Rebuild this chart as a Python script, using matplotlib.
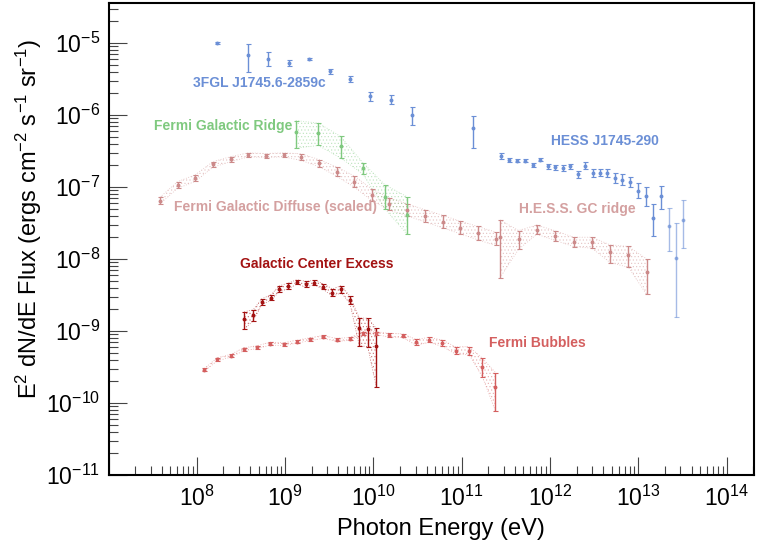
"""Gamma-ray spectra of the Galactic Center region (ROOT-style log-log plot)."""

import matplotlib

matplotlib.use("Agg")
import matplotlib.pyplot as plt
import matplotlib.ticker as mticker
import numpy as np

plt.rcParams["font.family"] = ["Liberation Sans", "DejaVu Sans"]
plt.rcParams["mathtext.fontset"] = "custom"
plt.rcParams["mathtext.rm"] = "Liberation Sans"
plt.rcParams["mathtext.it"] = "Liberation Sans:italic"
plt.rcParams["mathtext.bf"] = "Liberation Sans:bold"
plt.rcParams["mathtext.default"] = "regular"
plt.rcParams["hatch.linewidth"] = 0.5

# --- data: energy (eV), E^2 dN/dE flux, and error bars in dex (down, up) ---
fgl_e = [1.71e8, 3.83e8, 6.45e8, 1.10e9, 1.88e9, 3.2e9, 5.43e9, 9.2e9, 1.6e10, 2.74e10, 1.35e11]
fgl_f = [1.0e-5, 6.73e-6, 6.0e-6, 5.28e-6, 6.0e-6, 4.03e-6, 3.19e-6, 1.81e-6, 1.63e-6, 1.01e-6, 6.6e-7]
fgl_dn = [0.015, 0.231, 0.094, 0.047, 0.015, 0.036, 0.038, 0.06, 0.06, 0.139, 0.274]
fgl_up = [0.015, 0.158, 0.091, 0.046, 0.015, 0.038, 0.032, 0.061, 0.06, 0.112, 0.171]

hess_e = [2.81e11, 3.46e11, 4.26e11, 5.25e11, 6.37e11, 7.71e11, 9.42e11, 1.15e12, 1.39e12,
          1.70e12, 2.06e12, 2.49e12, 3.03e12, 3.68e12, 4.46e12, 5.45e12, 6.59e12, 8.05e12,
          9.93e12, 1.21e13, 1.48e13, 1.81e13, 2.21e13, 2.67e13, 3.24e13]
hess_f = [2.72e-7, 2.37e-7, 2.31e-7, 2.31e-7, 2.04e-7, 2.39e-7, 1.93e-7, 1.87e-7, 1.83e-7,
          1.93e-7, 1.51e-7, 1.99e-7, 1.57e-7, 1.59e-7, 1.56e-7, 1.33e-7, 1.26e-7, 1.19e-7,
          8.93e-8, 7.55e-8, 3.70e-8, 7.55e-8, 2.89e-8, 1.03e-8, 3.50e-8]
hess_dn = [0.04, 0.023, 0.02, 0.02, 0.025, 0.023, 0.035, 0.035, 0.037, 0.04, 0.05, 0.05, 0.05,
           0.05, 0.057, 0.07, 0.074, 0.07, 0.101, 0.139, 0.246, 0.184, 0.348, 0.812, 0.39]
hess_up = [0.04, 0.023, 0.02, 0.02, 0.025, 0.023, 0.035, 0.035, 0.037, 0.04, 0.05, 0.05, 0.05,
           0.05, 0.057, 0.07, 0.074, 0.07, 0.107, 0.125, 0.198, 0.136, 0.25, 0.49, 0.278]

ridge_e = [1.32e9, 2.38e9, 4.26e9, 7.57e9, 1.35e10, 2.38e10]
ridge_f = [5.90e-7, 5.61e-7, 3.66e-7, 1.83e-7, 7.38e-8, 4.11e-8]
ridge_dn = [0.231, 0.172, 0.161, 0.079, 0.171, 0.264]
ridge_up = [0.153, 0.139, 0.139, 0.078, 0.163, 0.254]

diffuse_e = [3.83e7, 6.07e7, 9.62e7, 1.52e8, 2.42e8, 3.83e8, 6.07e8, 9.62e8, 1.52e9, 2.42e9,
             3.83e9, 6.07e9, 9.62e9, 1.52e10, 2.42e10, 3.83e10, 6.07e10, 9.62e10, 1.52e11, 2.42e11]
diffuse_f = [6.49e-8, 1.07e-7, 1.33e-7, 2.06e-7, 2.44e-7, 2.80e-7, 2.74e-7, 2.80e-7, 2.60e-7, 2.15e-7,
             1.64e-7, 1.19e-7, 7.79e-8, 5.78e-8, 4.82e-8, 3.98e-8, 3.32e-8, 2.74e-8, 2.29e-8, 1.91e-8]
diffuse_err = [0.046, 0.046, 0.046, 0.038, 0.035, 0.028, 0.028, 0.028, 0.046, 0.05,
               0.065, 0.078, 0.08, 0.086, 0.083, 0.086, 0.086, 0.088, 0.093, 0.093]

hgc_e = [2.72e11, 4.40e11, 7.08e11, 1.15e12, 1.85e12, 2.97e12, 4.78e12, 7.71e12, 1.24e13]
hgc_f = [2.03e-8, 1.91e-8, 2.56e-8, 2.11e-8, 1.73e-8, 1.73e-8, 1.24e-8, 1.15e-8, 6.56e-9]
hgc_dn = [0.566, 0.146, 0.065, 0.067, 0.065, 0.088, 0.142, 0.175, 0.309]
hgc_up = [0.236, 0.115, 0.065, 0.067, 0.065, 0.065, 0.104, 0.114, 0.185]

gce_e = [3.45e8, 4.33e8, 5.47e8, 6.92e8, 8.53e8, 1.09e9, 1.36e9, 1.71e9, 2.14e9, 2.71e9,
         3.43e9, 4.33e9, 5.43e9, 6.92e9, 8.61e9, 1.08e10]
gce_f = [1.47e-9, 1.67e-9, 2.56e-9, 2.91e-9, 3.85e-9, 4.24e-9, 4.81e-9, 4.47e-9, 4.71e-9, 4.14e-9,
         3.42e-9, 3.81e-9, 2.70e-9, 1.09e-9, 1.07e-9, 6.27e-10]
gce_dn = [0.139, 0.083, 0.04, 0.04, 0.04, 0.04, 0.03, 0.04, 0.03, 0.04, 0.05, 0.05, 0.05, 0.242, 0.246, 0.578]
gce_up = [0.101, 0.07, 0.04, 0.04, 0.04, 0.04, 0.03, 0.04, 0.03, 0.04, 0.05, 0.05, 0.05, 0.143, 0.149, 0.242]

bub_e = [1.21e8, 1.71e8, 2.41e8, 3.40e8, 4.81e8, 6.79e8, 9.59e8, 1.36e9, 1.91e9, 2.70e9, 3.82e9, 5.40e9,
         7.62e9, 1.08e10, 1.52e10, 2.15e10, 3.03e10, 4.29e10, 6.05e10, 8.55e10, 1.21e11, 1.71e11, 2.41e11]
bub_f = [2.88e-10, 4.06e-10, 4.51e-10, 5.58e-10, 5.96e-10, 6.68e-10, 6.56e-10, 7.13e-10, 7.69e-10, 8.28e-10,
         7.52e-10, 7.77e-10, 9.31e-10, 9.31e-10, 8.75e-10, 8.61e-10, 6.98e-10, 7.52e-10, 6.76e-10, 5.35e-10,
         5.35e-10, 3.20e-10, 1.66e-10]
bub_dn = [0.02, 0.02, 0.02, 0.02, 0.02, 0.02, 0.02, 0.02, 0.02, 0.02, 0.02, 0.02, 0.02, 0.02, 0.025,
          0.025, 0.04, 0.035, 0.045, 0.05, 0.055, 0.139, 0.329]
bub_up = [0.02, 0.02, 0.02, 0.02, 0.02, 0.02, 0.02, 0.02, 0.02, 0.02, 0.02, 0.02, 0.02, 0.02, 0.025,
          0.025, 0.04, 0.035, 0.045, 0.05, 0.055, 0.117, 0.203]

BLUE = "#6b8fd6"
GREEN = "#7fc97f"
PINK = "#cc8a8a"
DARKRED = "#a31212"
BUBBLE = "#d45f5f"


def _bounds(flux, dn, up):
    f = np.asarray(flux)
    return f * 10.0 ** -np.asarray(dn), f * 10.0 ** np.asarray(up)


def _points(ax, energy, flux, dn, up, color, alpha=1.0, ms=1.8):
    lo, hi = _bounds(flux, dn, up)
    f = np.asarray(flux)
    ax.errorbar(energy, f, yerr=[f - lo, hi - f], fmt="o", color=color, ms=ms,
                elinewidth=1.0, capsize=1.8, capthick=0.8, alpha=alpha, zorder=4)


def _band(ax, energy, flux, dn, up, color, alpha=0.4):
    lo, hi = _bounds(flux, dn, up)
    ax.fill_between(energy, lo, hi, facecolor="none", edgecolor=color, hatch=".....",
                    linewidth=0.0, alpha=alpha, zorder=2)
    ax.plot(energy, lo, ls=(0, (1, 2)), color=color, lw=0.6, alpha=alpha + 0.1, zorder=2)
    ax.plot(energy, hi, ls=(0, (1, 2)), color=color, lw=0.6, alpha=alpha + 0.1, zorder=2)


def _decade_label(value, _pos):
    if value < 5e7 and value > 1e6:
        return ""
    return rf"$10^{{{int(round(np.log10(value)))}}}$"


fig = plt.figure(figsize=(7.64, 5.54), dpi=100)
ax = fig.add_axes([108.5 / 764, 1 - 475 / 554, (754 - 108.5) / 764, (475 - 3) / 554])
ax.set_xscale("log")
ax.set_yscale("log")
ax.set_xlim(1e7, 2.04e14)
ax.set_ylim(1e-11, 3.6e-5)

# bands
_band(ax, diffuse_e, diffuse_f, diffuse_err, diffuse_err, PINK)
_band(ax, hgc_e, hgc_f, hgc_dn, hgc_up, PINK)
_band(ax, ridge_e, ridge_f, ridge_dn, ridge_up, GREEN)
_band(ax, gce_e, gce_f, gce_dn, gce_up, DARKRED, alpha=0.45)
_band(ax, bub_e, bub_f, bub_dn, bub_up, BUBBLE)

# points
_points(ax, diffuse_e, diffuse_f, diffuse_err, diffuse_err, PINK)
_points(ax, hgc_e, hgc_f, hgc_dn, hgc_up, PINK)
_points(ax, ridge_e, ridge_f, ridge_dn, ridge_up, GREEN)
_points(ax, gce_e, gce_f, gce_dn, gce_up, DARKRED)
_points(ax, bub_e, bub_f, bub_dn, bub_up, BUBBLE)
_points(ax, fgl_e, fgl_f, fgl_dn, fgl_up, BLUE)
_points(ax, hess_e[:22], hess_f[:22], hess_dn[:22], hess_up[:22], BLUE)
_points(ax, hess_e[22:], hess_f[22:], hess_dn[22:], hess_up[22:], BLUE, alpha=0.6)

# labels drawn on the plot
label_specs = [
    ("3FGL J1745.6-2859c", 193, 83, BLUE),
    ("Fermi Galactic Ridge", 154, 126, GREEN),
    ("HESS J1745-290", 551, 141, BLUE),
    ("Fermi Galactic Diffuse (scaled)", 174, 207.5, "#d4a0a0"),
    ("H.E.S.S. GC ridge", 519, 209.5, "#d4a0a0"),
    ("Galactic Center Excess", 240, 263.5, DARKRED),
    ("Fermi Bubbles", 489, 343, BUBBLE),
]
for text, px, py, color in label_specs:
    fig.text(px / 764, 1 - py / 554, text, color=color, fontsize=10, fontweight="bold",
             ha="left", va="center")

# axes styling (ROOT look)
for spine in ax.spines.values():
    spine.set_linewidth(1.5)
ax.xaxis.set_major_locator(mticker.LogLocator(base=10, numticks=20))
ax.yaxis.set_major_locator(mticker.LogLocator(base=10, numticks=20))
ax.xaxis.set_minor_locator(mticker.LogLocator(base=10, subs=np.arange(2, 10), numticks=100))
ax.yaxis.set_minor_locator(mticker.LogLocator(base=10, subs=np.arange(2, 10), numticks=100))
ax.xaxis.set_major_formatter(mticker.FuncFormatter(_decade_label))
ax.xaxis.set_minor_formatter(mticker.NullFormatter())
ax.yaxis.set_minor_formatter(mticker.NullFormatter())
ax.tick_params(which="both", direction="in", top=False, right=False, width=0.8, color="#444444")
ax.tick_params(which="major", length=13, labelsize=16.5)
ax.tick_params(which="minor", length=6.5)
ax.tick_params(axis="x", which="major", pad=8)
ax.tick_params(axis="y", which="major", pad=6)

ax.set_xlabel("Photon Energy (eV)", fontsize=17, va="center")
ax.xaxis.set_label_coords(0.515, -0.114)
ax.set_ylabel(r"E$^{2}$ dN/dE Flux (ergs cm$^{-2}$ s$^{-1}$ sr$^{-1}$)", fontsize=17, va="center")
ax.yaxis.set_label_coords(-0.123, 0.543)

fig.savefig("out.png", dpi=100)
